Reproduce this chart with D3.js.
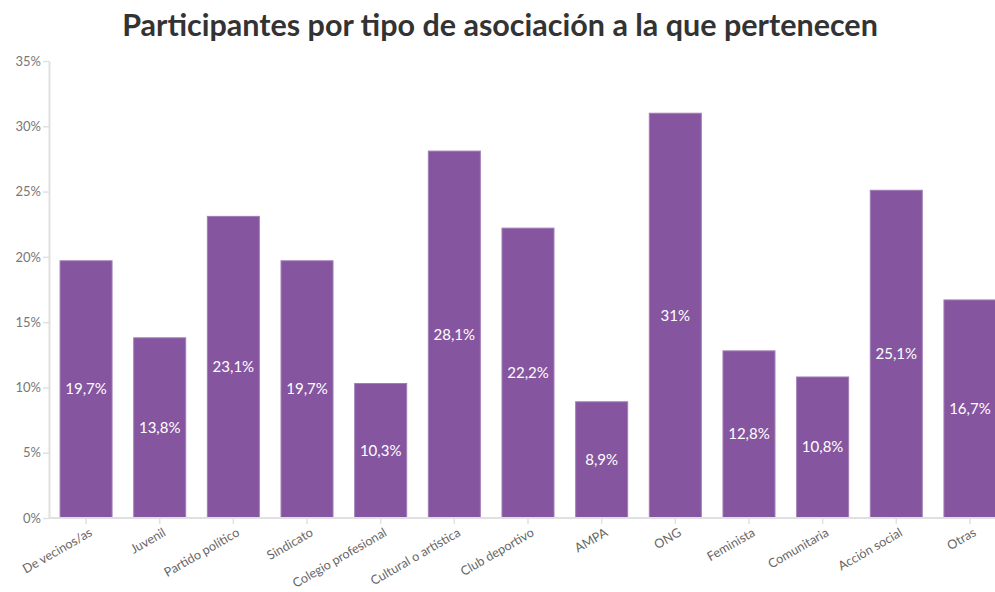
<!DOCTYPE html>
<html><head><meta charset="utf-8">
<script src="https://cdn.jsdelivr.net/npm/d3@7"></script>
<style>body{margin:0;background:#fff;} svg{display:block;font-family:"Lato","Open Sans",sans-serif;}</style>
</head><body>
<svg id="c" width="995" height="592"></svg>
<script>
const categories = ["De vecinos/as","Juvenil","Partido político","Sindicato","Colegio profesional","Cultural o artística","Club deportivo","AMPA","ONG","Feminista","Comunitaria","Acción social","Otras"];
const values = [19.7,13.8,23.1,19.7,10.3,28.1,22.2,8.9,31,12.8,10.8,25.1,16.7];
const yTicks = [0,5,10,15,20,25,30,35];
const title = "Participantes por tipo de asociación a la que pertenecen";

const svg = d3.select("#c");
const x0 = 49, yBase = 518, yTop = 61;
const x = d3.scaleBand().domain(categories).range([x0, 1007]).paddingInner(0.294).paddingOuter(0.15);
const y = d3.scaleLinear().domain([0,35]).range([yBase, yTop]);
const fmt = v => String(v).replace(".", ",") + "%";

svg.append("text").attr("x", 500).attr("y", 36).attr("text-anchor","middle")
  .attr("font-size", 30.5).attr("font-weight", 700).attr("fill", "#333").text(title);

// y axis
const ya = svg.append("g").attr("transform", `translate(${x0},0)`)
  .call(d3.axisLeft(y).tickValues(yTicks).tickFormat(d => d + "%").tickSize(6).tickSizeOuter(0));
ya.select(".domain").attr("stroke", "#e0e0e0").attr("stroke-width", 2);
ya.selectAll(".tick line").attr("stroke", "#e0e0e0").attr("stroke-width", 1.5);
ya.selectAll(".tick text").attr("fill", "#777").attr("font-size", 13).attr("x", -8).attr("font-family", "Lato");

// bars
svg.append("g").selectAll("rect").data(values).join("rect")
  .attr("x", (d,i) => x(categories[i])).attr("width", x.bandwidth())
  .attr("y", d => y(d)).attr("height", d => yBase - y(d))
  .attr("fill", "#86559f").attr("stroke", "#a27cb6").attr("stroke-width", 1);

// x axis
const xa = svg.append("g").attr("transform", `translate(0,${yBase})`)
  .call(d3.axisBottom(x).tickSize(6).tickSizeOuter(0));
xa.select(".domain").attr("stroke", "#e0e0e0").attr("stroke-width", 2).attr("d", `M${x0},0H1007`);
xa.selectAll(".tick line").attr("stroke", "#e0e0e0").attr("stroke-width", 1.5);
xa.selectAll(".tick text").attr("fill", "#666").attr("font-size", 12.6).attr("font-family", "Lato")
  .attr("text-anchor", "end").attr("dy", 0).attr("y", 0)
  .attr("transform", "translate(7,17) rotate(-30)");

// value labels
svg.append("g").selectAll("text").data(values).join("text")
  .attr("x", (d,i) => x(categories[i]) + x.bandwidth()/2)
  .attr("y", d => y(d/2) + 5)
  .attr("text-anchor", "middle").attr("fill", "#fff").attr("font-size", 15)
  .text(d => fmt(d));
</script>
</body></html>
